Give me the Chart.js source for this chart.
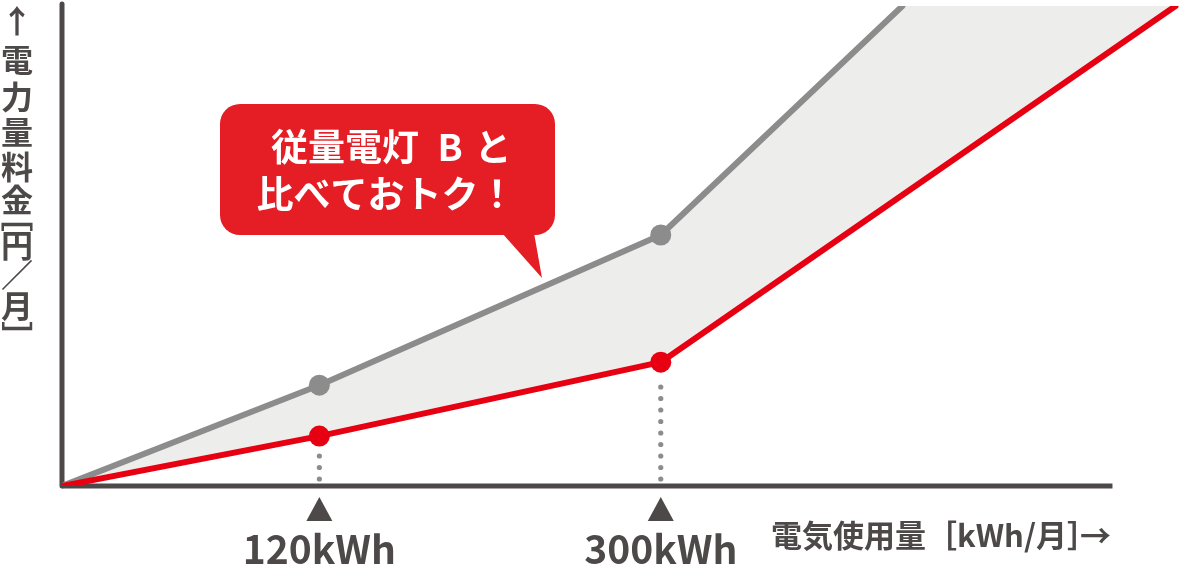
<!DOCTYPE html>
<html lang="ja">
<head>
<meta charset="utf-8">
<script src="https://cdn.jsdelivr.net/npm/chart.js@4"></script>
<style>
  html, body { margin: 0; padding: 0; background: #fff; }
  #wrap { width: 1186px; height: 565px; position: relative; }
</style>
</head>
<body>
<div id="wrap"><canvas id="chart"></canvas></div>
<script>
// schematic chart: x = usage position, y = monthly charge (relative units, no ticks shown)
const grayX = [0, 24.5, 57, 80];          // 従量電灯B
const grayY = [0, 21, 52.3, 100];
const redX = [0, 24.5, 57, 106];          // this plan
const redY = [0, 10.4, 25.8, 100];
const bandX = [0, 24.5, 57, 80, 106];     // upper edge of the shaded band (gray line, then along the top)
const bandY = [0, 21, 52.3, 100, 100];
const markerX = [24.5, 57];               // 120kWh, 300kWh
const markerLabels = ['120kWh', '300kWh'];
const markerRedY = [10.4, 25.8];
const xAxisEnd = 100;

const xTitle = '電気使用量［kWh/月］';
const yTitleChars = ['↑', '電', '力', '量', '料', '金', '［', '円', '／', '月', '］'];
const yTitlePos = [21, 60, 97, 132, 167, 200, 216, 245, 275, 306, 337];
const calloutLine1 = ['従量電灯', 'B', 'と'];
const calloutLine2 = '比べておトク！';

const FONT = "'Noto Sans CJK JP', 'Noto Sans', sans-serif";
const INK = '#4c4948';
const GRAY = '#8c8c8c';
const RED = '#e60012';

const decor = {
    id: 'decor',
    beforeDatasetsDraw(chart) {
        const ctx = chart.ctx;
        const x = chart.scales.x, y = chart.scales.y;
        const x0 = x.getPixelForValue(0), y0 = y.getPixelForValue(0);
        ctx.save();
        ctx.strokeStyle = INK;
        ctx.lineWidth = 5;
        // y axis
        ctx.lineCap = 'round';
        ctx.beginPath();
        ctx.moveTo(x0, y.getPixelForValue(100) - 2);
        ctx.lineTo(x0, y0);
        ctx.stroke();
        // x axis
        ctx.lineCap = 'butt';
        ctx.beginPath();
        ctx.moveTo(x0, y0);
        ctx.lineTo(x.getPixelForValue(xAxisEnd), y0);
        ctx.stroke();
        ctx.restore();
    },
    afterDatasetsDraw(chart) {
        const ctx = chart.ctx;
        const x = chart.scales.x, y = chart.scales.y;
        const y0 = y.getPixelForValue(0);
        ctx.save();
        // dotted guides + triangles + labels
        markerX.forEach((v, i) => {
            const px = x.getPixelForValue(v);
            const top = y.getPixelForValue(markerRedY[i]) + 14.5;
            ctx.fillStyle = GRAY;
            for (let py = y0 - 7; py > top; py -= 11.5) {
                ctx.beginPath();
                ctx.arc(px, py, 2.6, 0, Math.PI * 2);
                ctx.fill();
            }
            ctx.fillStyle = INK;
            ctx.beginPath();
            ctx.moveTo(px, y0 + 11);
            ctx.lineTo(px + 13, y0 + 35);
            ctx.lineTo(px - 13, y0 + 35);
            ctx.closePath();
            ctx.fill();
            ctx.font = 'bold 39px ' + FONT;
            ctx.textAlign = 'center';
            ctx.textBaseline = 'alphabetic';
            ctx.fillText(markerLabels[i], px, 564);
        });

        // axis titles
        ctx.fillStyle = INK;
        ctx.font = 'bold 31px ' + FONT;
        ctx.textAlign = 'left';
        ctx.textBaseline = 'middle';
        ctx.fillText(xTitle, 771, 535);
        ctx.fillText('→', 1080, 535);

        ctx.font = 'bold 32px ' + FONT;
        ctx.textAlign = 'center';
        yTitleChars.forEach((c, i) => {
            if (c === '［' || c === '］') {
                ctx.save();
                ctx.translate(17, yTitlePos[i]);
                ctx.rotate(Math.PI / 2);
                ctx.fillText(c, 0, 0);
                ctx.restore();
            } else {
                ctx.fillText(c, 17, yTitlePos[i]);
            }
        });

        // callout
        ctx.fillStyle = '#e51d24';
        ctx.beginPath();
        ctx.roundRect(220, 104, 335, 131, 20);
        ctx.fill();
        ctx.beginPath();
        ctx.moveTo(502, 233);
        ctx.lineTo(542, 278);
        ctx.lineTo(534, 233);
        ctx.closePath();
        ctx.fill();

        ctx.fillStyle = '#fff';
        ctx.font = 'bold 37px ' + FONT;
        ctx.textBaseline = 'middle';
        ctx.textAlign = 'center';
        ctx.fillText(calloutLine1[0], 345, 147);
        ctx.fillText(calloutLine1[1], 450, 147);
        ctx.fillText(calloutLine1[2], 493, 147);
        ctx.fillText(calloutLine2, 386, 194);
        ctx.restore();
    }
};

const pts = (xs, ys) => xs.map((v, i) => ({x: v, y: ys[i]}));

new Chart(document.getElementById('chart'), {
    type: 'line',
    data: {
        datasets: [
            {
                label: '従量電灯B',
                data: pts(grayX, grayY),
                borderColor: GRAY,
                borderWidth: 6,
                borderCapStyle: 'round',
                borderJoinStyle: 'round',
                pointRadius: [0, 10.5, 10.5, 0],
                pointBackgroundColor: GRAY,
                pointBorderWidth: 0,
                fill: false,
                tension: 0,
                order: 1
            },
            {
                label: 'プラン',
                data: pts(redX, redY),
                borderColor: RED,
                borderWidth: 6,
                borderCapStyle: 'round',
                borderJoinStyle: 'round',
                pointRadius: [0, 10.5, 10.5, 0],
                pointBackgroundColor: RED,
                pointBorderWidth: 0,
                fill: false,
                tension: 0,
                order: 0
            },
            {
                label: 'band',
                data: pts(bandX, bandY),
                borderWidth: 0,
                borderColor: 'rgba(0,0,0,0)',
                pointRadius: 0,
                fill: {target: 1, above: '#ededeb', below: '#ededeb'},
                tension: 0,
                order: 2
            }
        ]
    },
    options: {
        responsive: true,
        maintainAspectRatio: false,
        animation: false,
        layout: {padding: {left: 62, right: 0, top: 6, bottom: 79}},
        plugins: {
            legend: {display: false},
            tooltip: {enabled: false}
        },
        scales: {
            x: {type: 'linear', display: false, min: 0, max: 107},
            y: {type: 'linear', display: false, min: 0, max: 100}
        }
    },
    plugins: [decor]
});
</script>
</body>
</html>
